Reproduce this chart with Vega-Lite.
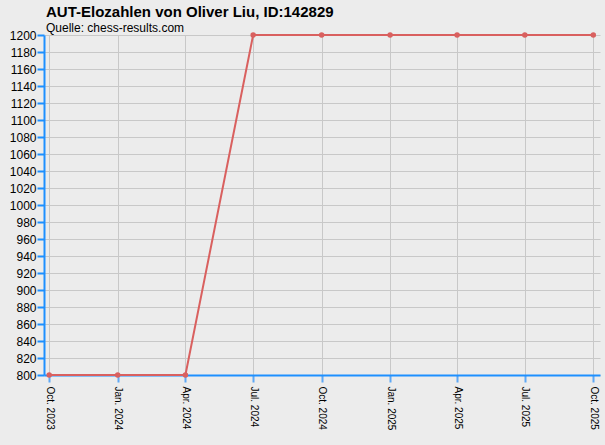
{
  "$schema": "https://vega.github.io/schema/vega-lite/v6.json",
  "width": 556,
  "height": 340,
  "autosize": {"type": "none"},
  "padding": {"left": 44, "top": 35, "right": 5, "bottom": 70},
  "background": "#ececec",
  "title": {
    "text": "AUT-Elozahlen von Oliver Liu, ID:142829",
    "subtitle": "Quelle: chess-results.com",
    "anchor": "start",
    "frame": "group",
    "font": "Liberation Sans",
    "fontSize": 15,
    "fontWeight": "bold",
    "color": "#000000",
    "subtitleFont": "Liberation Sans",
    "subtitleFontSize": 12,
    "subtitleColor": "#000000",
    "subtitlePadding": 3,
    "dx": 2,
    "offset": -5
  },
  "data": {
    "values": [
      {"Datum": "2023-10-01", "Elo": 800},
      {"Datum": "2024-01-01", "Elo": 800},
      {"Datum": "2024-04-01", "Elo": 800},
      {"Datum": "2024-07-01", "Elo": 1200},
      {"Datum": "2024-10-01", "Elo": 1200},
      {"Datum": "2025-01-01", "Elo": 1200},
      {"Datum": "2025-04-01", "Elo": 1200},
      {"Datum": "2025-07-01", "Elo": 1200},
      {"Datum": "2025-10-01", "Elo": 1200}
    ]
  },
  "encoding": {
    "x": {
      "field": "Datum",
      "type": "temporal",
      "title": null,
      "scale": {
        "type": "utc",
        "domain": [
          {"year": 2023, "month": 9, "date": 24, "utc": true},
          {"year": 2025, "month": 10, "date": 10, "utc": true}
        ]
      },
      "axis": {
        "values": [
          {"year": 2023, "month": 10, "date": 1, "utc": true},
          {"year": 2024, "month": 1, "date": 1, "utc": true},
          {"year": 2024, "month": 4, "date": 1, "utc": true},
          {"year": 2024, "month": 7, "date": 1, "utc": true},
          {"year": 2024, "month": 10, "date": 1, "utc": true},
          {"year": 2025, "month": 1, "date": 1, "utc": true},
          {"year": 2025, "month": 4, "date": 1, "utc": true},
          {"year": 2025, "month": 7, "date": 1, "utc": true},
          {"year": 2025, "month": 10, "date": 1, "utc": true}
        ],
        "format": "%b. %Y",
        "labelAngle": 90,
        "labelFontSize": 10,
        "labelPadding": 4,
        "tickColor": "#5fa8f5",
        "tickSize": 7,
        "tickWidth": 2
      }
    },
    "y": {
      "field": "Elo",
      "type": "quantitative",
      "title": null,
      "scale": {"domain": [800, 1200], "nice": false, "zero": false},
      "axis": {
        "values": [800, 820, 840, 860, 880, 900, 920, 940, 960, 980, 1000, 1020, 1040, 1060, 1080, 1100, 1120, 1140, 1160, 1180, 1200],
        "format": "d",
        "labelFontSize": 12,
        "labelPadding": 1,
        "tickColor": "#1e90ff",
        "tickSize": 7,
        "tickWidth": 2
      }
    }
  },
  "layer": [
    {"mark": {"type": "line", "color": "#d9605f", "strokeWidth": 2}},
    {"mark": {"type": "point", "filled": true, "color": "#d9605f", "size": 30, "opacity": 1}}
  ],
  "config": {
    "view": {"stroke": null},
    "axis": {
      "labelFont": "Liberation Sans",
      "labelColor": "#000000",
      "domainColor": "#1e90ff",
      "domainWidth": 2,
      "gridColor": "#c8c8c8",
      "gridWidth": 1,
      "gridOpacity": 1,
      "labelOverlap": false
    }
  }
}
